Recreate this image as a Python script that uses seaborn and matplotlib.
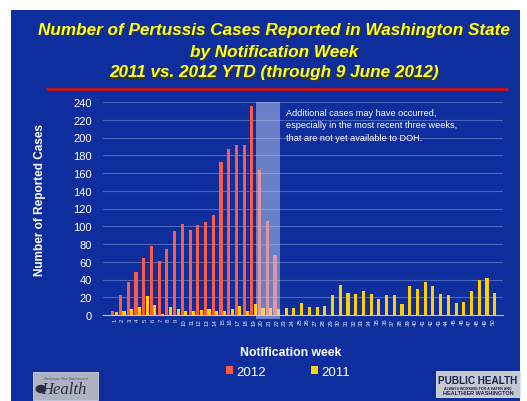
import numpy as np
import pandas as pd
import seaborn as sns
import matplotlib
matplotlib.use("Agg")
import matplotlib.pyplot as plt
from matplotlib.patches import Rectangle, Circle

# ---- data ----
weeks = list(range(1, 51))
cases_2012 = [5, 22, 37, 49, 64, 78, 61, 74, 95, 102, 96, 101, 105, 113,
              172, 187, 191, 192, 235, 163, 106, 68]
cases_2011 = [3, 4, 7, 9, 21, 11, 1, 9, 7, 5, 5, 6, 7, 4, 4, 7, 10, 5, 12, 8,
              8, 7, 8, 8, 13, 9, 9, 10, 22, 34, 25, 24, 27, 24, 18, 22, 23,
              12, 33, 29, 37, 33, 24, 23, 13, 15, 27, 40, 42, 25]
y_ticks = list(range(0, 241, 20))
series_names = ["2012", "2011"]
colors = {"2012": "#FF5A46", "2011": "#FFD000"}

BG = "#0E2E9E"

rows = []
for i, w in enumerate(weeks):
    v12 = cases_2012[i] if i < len(cases_2012) else np.nan
    rows.append({"week": str(w), "year": "2012", "cases": v12})
    rows.append({"week": str(w), "year": "2011", "cases": cases_2011[i]})
df = pd.DataFrame(rows)

sns.set_theme(style="white")
plt.rcParams["font.family"] = ["Liberation Sans", "DejaVu Sans"]

fig = plt.figure(figsize=(5.27, 4.02), dpi=100)
fig.patch.set_facecolor("white")
W, H = 527, 402
# blue slide background
fig.add_artist(Rectangle((11 / W, 0), (520 - 11) / W, 1 - 11 / H,
                         transform=fig.transFigure, facecolor=BG,
                         edgecolor="none", zorder=-10))

ax = fig.add_axes([103 / W, 1 - 316 / H, (503 - 103) / W, (316 - 103) / H])
ax.set_zorder(5)
ax.set_facecolor("none")
ax.patch.set_alpha(0)

sns.barplot(data=df, x="week", y="cases", hue="year", hue_order=series_names,
            palette=colors, order=[str(w) for w in weeks], width=0.9,
            gap=0.1, saturation=1, errorbar=None, ax=ax, zorder=3,
            linewidth=0, edgecolor="none")

ax.set_ylim(0, 240)
ax.set_xlim(-1.5, len(weeks) + 0.3)
ax.set_yticks(y_ticks)
ax.set_yticklabels([str(t) for t in y_ticks], color="white", fontsize=8)
ax.tick_params(axis="x", labelrotation=90, labelsize=4.3, colors="#E8ECFA",
               length=0, pad=2)
ax.tick_params(axis="y", length=0, pad=8)
for t in y_ticks[1:]:
    ax.axhline(t, color="#7F93D6", lw=0.8, alpha=0.55, zorder=1)
for s in ["top", "right", "left"]:
    ax.spines[s].set_visible(False)
ax.spines["bottom"].set_color("#B8C4EC")
ax.spines["bottom"].set_linewidth(0.8)
ax.set_xlabel("")
ax.set_ylabel("")

# shaded last three weeks of 2012
n12 = len(cases_2012)
x0 = n12 - 3 - 0.65
x1 = n12 - 1 + 0.45
ax.add_patch(Rectangle((x0, -5), x1 - x0, 245, facecolor="#C6D3F2",
                       alpha=0.5, edgecolor="none", zorder=4, clip_on=False))

ax.text(n12 + 0.2, 233,
        "Additional cases may have occurred,\n"
        "especially in the most recent three weeks,\n"
        "that are not yet available to DOH.",
        color="white", fontsize=6.6, va="top", ha="left", linespacing=1.45,
        zorder=5)

# legend
handles, labels = ax.get_legend_handles_labels()
for h in handles:
    h.set_linewidth(0)
leg = ax.legend(handles, labels, loc="center",
                bbox_to_anchor=(288 / W, 1 - 373 / H),
                bbox_transform=fig.transFigure, ncol=2, frameon=False,
                handlelength=0.55, handleheight=0.55, handletextpad=0.25,
                columnspacing=3.4, fontsize=9.5, labelcolor="white")

# titles
title_lines = ["Number of Pertussis Cases Reported in Washington State",
               "by Notification Week",
               "2011 vs. 2012 YTD (through 9 June 2012)"]
for line, yy in zip(title_lines, [30, 52, 73]):
    fig.text(274 / W + 0.002, 1 - yy / H - 0.003, line, color="#3A3A10",
             fontsize=12.3, fontweight="bold", fontstyle="italic",
             ha="center", va="center")
    fig.text(274 / W, 1 - yy / H, line, color="#FFFF22", fontsize=12.3,
             fontweight="bold", fontstyle="italic", ha="center", va="center")

fig.add_artist(plt.Line2D([47 / W, 507 / W], [1 - 90 / H, 1 - 90 / H],
                          transform=fig.transFigure, color="#D01010", lw=2))

fig.text(40 / W, 1 - 200 / H, "Number of Reported Cases", rotation=90,
         color="white", fontsize=8.5, fontweight="bold", ha="center",
         va="center")
fig.text(291 / W, 1 - 353 / H, "Notification week", color="white",
         fontsize=8.8, fontweight="bold", ha="center", va="center")

# logos
fig.add_artist(Rectangle((33 / W, 1 - 401 / H), 65 / W, 28 / H,
                         transform=fig.transFigure, facecolor="#AEB3C2",
                         edgecolor="#D0D4DE", lw=0.6, zorder=1))
fig.text(64 / W, 1 - 390 / H, "Health", color="#2A2F45", fontsize=12,
         fontstyle="italic", family="Liberation Serif", ha="center",
         va="center")
fig.add_artist(Circle((41 / W, 1 - 390 / H), 5.5 / W,
                      transform=fig.transFigure, facecolor="#2A2F45",
                      edgecolor="none", zorder=2))
fig.text(66 / W, 1 - 379 / H, "Washington State Department of", color="#50566A",
         fontsize=2.2, ha="center", va="center")

fig.add_artist(Rectangle((436 / W, 1 - 398 / H), 84 / W, 26 / H,
                         transform=fig.transFigure, facecolor="#C4C8D2",
                         edgecolor="#E0E2E8", lw=0.6, zorder=1))
fig.text(478 / W, 1 - 381 / H, "PUBLIC HEALTH", color="#1C2450", fontsize=7.2,
         fontweight="bold", ha="center", va="center")
fig.text(478 / W, 1 - 389 / H, "ALWAYS WORKING FOR A SAFER AND",
         color="#1C2450", fontsize=2.6, fontweight="bold", ha="center",
         va="center")
fig.text(478 / W, 1 - 394 / H, "HEALTHIER WASHINGTON", color="#1C2450",
         fontsize=4, fontweight="bold", ha="center", va="center")

fig.savefig("out.png", dpi=100, facecolor=fig.get_facecolor())
